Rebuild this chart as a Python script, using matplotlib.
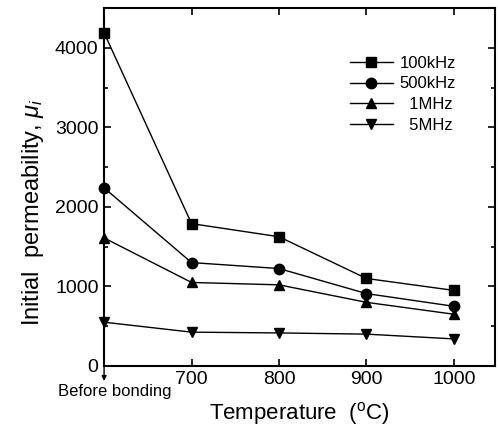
import matplotlib
matplotlib.use("Agg")
import matplotlib.pyplot as plt
from matplotlib.ticker import MultipleLocator

plt.rcParams['font.family'] = ['Liberation Sans', 'DejaVu Sans']
plt.rcParams['mathtext.fontset'] = 'custom'
plt.rcParams['mathtext.rm'] = 'Liberation Sans'
plt.rcParams['mathtext.it'] = 'Liberation Sans:italic'

x_pos = [600, 700, 800, 900, 1000]
x_labels = ["Before bonding", "700", "800", "900", "1000"]
series_names = ["100kHz", "500kHz", "  1MHz", "  5MHz"]
mu_100k = [4190, 1790, 1625, 1100, 950]
mu_500k = [2240, 1300, 1225, 910, 750]
mu_1M = [1610, 1050, 1020, 800, 650]
mu_5M = [550, 425, 415, 400, 340]
markers = ['s', 'o', '^', 'v']

fig = plt.figure(figsize=(4.98, 4.30), dpi=100)
ax = fig.add_axes([0.209, 0.149, 0.785, 0.832])

for ys, m, name in zip([mu_100k, mu_500k, mu_1M, mu_5M], markers, series_names):
    ax.plot(x_pos, ys, color='black', lw=1.0, marker=m, markersize=7.5,
            label=name, clip_on=False, zorder=3)

ax.set_xlim(600, 1047)
ax.set_ylim(0, 4500)
ax.set_xticks([700, 800, 900, 1000])
ax.set_xticklabels(x_labels[1:])
ax.yaxis.set_major_locator(MultipleLocator(1000))
ax.yaxis.set_minor_locator(MultipleLocator(500))
ax.tick_params(which='both', direction='in', top=True, right=True, width=1.2)
ax.tick_params(which='major', length=5, labelsize=14, pad=4)
ax.tick_params(which='minor', length=3)
for s in ax.spines.values():
    s.set_linewidth(1.5)

# "Before bonding" label with arrow from axis
ax.annotate('', xy=(600, -190), xytext=(600, 0),
            xycoords='data', textcoords='data',
            arrowprops=dict(arrowstyle='-|>', color='black', lw=1.0,
                            mutation_scale=7, shrinkA=0, shrinkB=0),
            annotation_clip=False)
ax.text(x_pos[0] + 12, -230, x_labels[0], ha='center', va='top', fontsize=12)

ax.set_xlabel('Temperature  ($^\\mathregular{o}$C)', fontsize=16, labelpad=8)
ax.set_ylabel('Initial  permeability, $\\mu_i$', fontsize=17)
ax.yaxis.set_label_coords(-0.148, 0.43)

leg = ax.legend(loc='upper right', bbox_to_anchor=(0.93, 0.90), frameon=False,
                fontsize=12, handlelength=2.6, handletextpad=0.4,
                labelspacing=0.35, borderpad=0.2)

fig.savefig('out.png', dpi=100)
